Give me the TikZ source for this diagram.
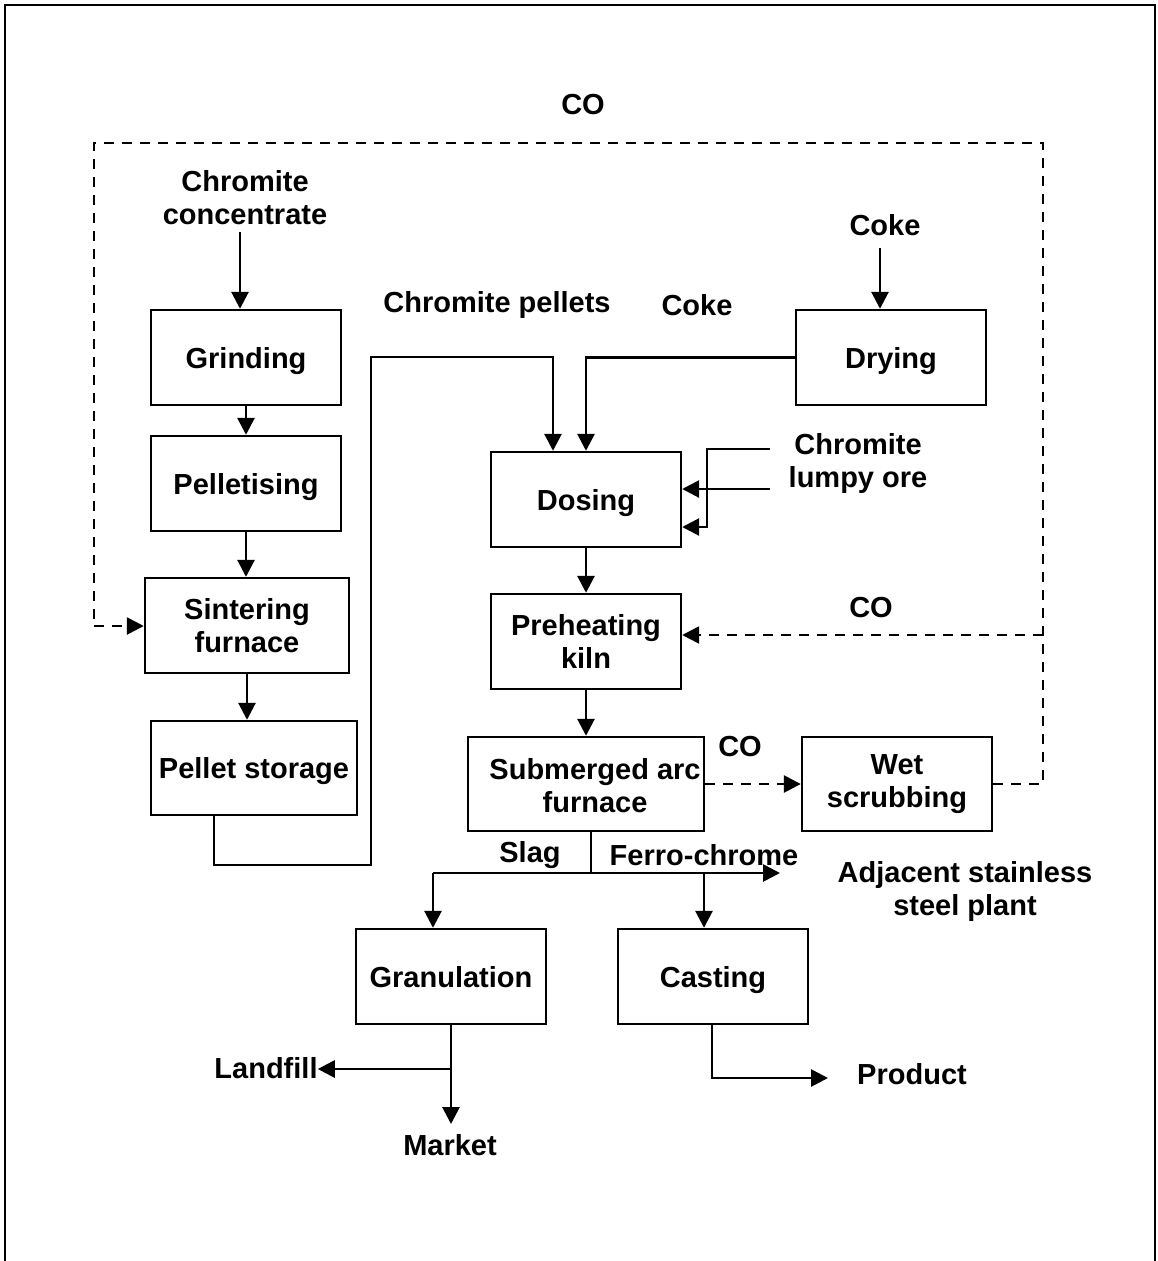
\documentclass[tikz,border=0pt]{standalone}
\usepackage{fontspec}
\setmainfont{Liberation Sans}
\usetikzlibrary{arrows.meta}
\begin{document}
\begin{tikzpicture}[x=1pt,y=-1pt,
  font=\fontsize{29}{33}\selectfont\bfseries,
  box/.style={draw,line width=2.4pt,align=center,inner sep=0pt},
  one/.style={text height=21pt,text depth=0pt},
  lbl/.style={align=center,inner sep=0pt},
  conn/.style={line width=2.8pt},
  tip/.style={-{Triangle[length=17pt,width=17pt]}},
  arr/.style={conn,tip},
  dsh/.style={line width=2.6pt,dash pattern=on 10pt off 8pt}]
\useasboundingbox (0,0) rectangle (1158,1261);
\draw[line width=2.6pt] (5,1261) -- (5,5) -- (1155,5) -- (1155,1261);

% boxes
\node[box,one,minimum width=190pt,minimum height=95pt] (grind) at (246,357.5) {Grinding};
\node[box,one,minimum width=190pt,minimum height=95pt] (pellet) at (246,483.5) {Pelletising};
\node[box,minimum width=204pt,minimum height=95pt] (sinter) at (247,625.5) {Sintering\\furnace};
\node[box,one,minimum width=206pt,minimum height=94pt] (storage) at (254,768) {Pellet storage};
\node[box,one,minimum width=190pt,minimum height=95pt] (dosing) at (586,499.5) {Dosing};
\node[box,one,minimum width=190pt,minimum height=95pt] (drying) at (891,357.5) {Drying};
\node[box,minimum width=190pt,minimum height=95pt] (preheat) at (586,641.5) {Preheating\\kiln};
\node[box,minimum width=236pt,minimum height=94pt] (saf) at (586,784) {};
\node[lbl] (saftext) at (595,786) {Submerged arc\\furnace};
\node[box,minimum width=190pt,minimum height=94pt] (wet) at (897,784) {Wet\\scrubbing};
\node[box,one,minimum width=190pt,minimum height=95pt] (gran) at (451,976.5) {Granulation};
\node[box,one,minimum width=190pt,minimum height=95pt] (cast) at (713,976.5) {Casting};

% labels
\node[lbl] (co1) at (583,105) {CO};
\node[lbl] (conc) at (245,198) {Chromite\\concentrate};
\node[lbl] (coke1) at (885,225) {Coke};
\node[lbl] (pellets) at (497,305) {Chromite pellets};
\node[lbl] (coke2) at (697,305) {Coke};
\node[lbl] (lumpy) at (858,463) {Chromite\\lumpy ore};
\node[lbl] (co2) at (871,608) {CO};
\node[lbl] (co3) at (740,747) {CO};
\node[lbl] (slag) at (530,855) {Slag};
\node[lbl] (ferro) at (704,855) {Ferro-chrome};
\node[lbl] (adj) at (965,891) {Adjacent stainless\\steel plant};
\node[lbl] (landfill) at (266,1068) {Landfill};
\node[lbl] (market) at (450,1145) {Market};
\node[lbl] (product) at (912,1074) {Product};

% coordinates
\coordinate (cc) at (240,232);
\coordinate (ck) at (880,248);
\coordinate (p1) at (214,865);
\coordinate (p2) at (371,357);
\coordinate (p3) at (553,357);
\coordinate (l1) at (770,449);
\coordinate (l2) at (770,489);
\coordinate (l3) at (707,527);
\coordinate (r1) at (1043,784);
\coordinate (r2) at (1043,635);
\coordinate (r3) at (1043,143);
\coordinate (r4) at (94,143);
\coordinate (r5) at (94,626);
\coordinate (j) at (591,873);
\coordinate (sl) at (433,873);
\coordinate (fe) at (780,873);
\coordinate (fc) at (704,873);
\coordinate (mk) at (451,1124);
\coordinate (lf) at (451,1069);
\coordinate (c1) at (712,1078);
\coordinate (pr) at (828,1078);

% connectors
\draw[arr] (cc) -- (cc |- grind.north);
\draw[arr] (ck) -- (ck |- drying.north);
\draw[arr] (grind.south) -- (pellet.north);
\draw[arr] (pellet.south) -- (pellet.south |- sinter.north);
\draw[arr] (sinter.south) -- (sinter.south |- storage.north);
\draw[arr] (storage.south -| p1) -- (p1) -- (p1 -| p2) -- (p2) -- (p3) -- (p3 |- dosing.north);
\draw[arr] (drying.west) -- (drying.west -| dosing.north) -- (dosing.north);
\draw[arr] (l1) -- (l1 -| l3) -- (l3) -- (l3 -| dosing.east);
\draw[arr] (l2) -- (l2 -| dosing.east);
\draw[arr] (dosing.south) -- (preheat.north);
\draw[arr] (preheat.south) -- (saf.north);
\draw[dsh,tip] (saf.east) -- (wet.west);
\draw[dsh] (wet.east) -- (r1) -- (r2) -- (r3) -- (r4) -- (r5);
\draw[dsh,tip] (r2) -- (r2 -| preheat.east);
\draw[dsh,tip] (r5) -- (r5 -| sinter.west);
\draw[conn] (saf.south -| j) -- (j);
\draw[arr] (sl) -- (fe);
\draw[arr] (sl) -- (sl |- gran.north);
\draw[arr] (fc) -- (fc |- cast.north);
\draw[arr] (gran.south) -- (mk);
\draw[arr] (lf) -- (lf -| landfill.east);
\draw[arr] (cast.south -| c1) -- (c1) -- (pr);
\end{tikzpicture}
\end{document}
